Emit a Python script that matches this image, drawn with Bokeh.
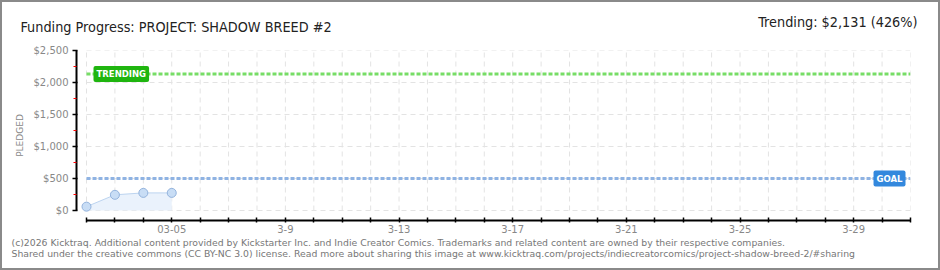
from bokeh.plotting import figure
from bokeh.models import (FixedTicker, NumeralTickFormatter, Label,
                          ColumnDataSource, Range1d)
from bokeh.embed import file_html
from bokeh.resources import INLINE

# ---- data ----
days = [2, 3, 4, 5]
pledged = [60, 245, 275, 275]
axis_days = list(range(2, 32))
label_days = [5, 9, 13, 17, 21, 25, 29]
label_texts = ["03-05", "3-9", "3-13", "3-17", "3-21", "3-25", "3-29"]
y_ticks = [0, 500, 1000, 1500, 2000, 2500]
y_minor = [250, 750, 1250, 1750, 2250]
goal = 500
trending = 2131
trending_pct = 426
title_text = "Funding Progress: PROJECT: SHADOW BREED #2"
trend_text = "Trending: $2,131 (426%)"
footer_lines = [
    "(c)2026 Kicktraq. Additional content provided by Kickstarter Inc. and Indie Creator Comics. "
    "Trademarks and related content are owned by their respective companies.",
    "Shared under the creative commons (CC BY-NC 3.0) license. Read more about sharing this image at "
    "www.kicktraq.com/projects/indiecreatorcomics/project-shadow-breed-2/#sharing",
]

B = 2  # css border width around the whole chart
PX_DAY = 28.4
PX_USD = 0.064
x_start = axis_days[0] - 10 / PX_DAY
y_start = -10 / PX_USD

p = figure(frame_width=834, frame_height=170,
           x_range=Range1d(x_start, axis_days[-1]), y_range=Range1d(y_start, y_ticks[-1]),
           output_backend="svg", toolbar_location=None,
           min_border_left=76 - B, min_border_right=30 - B, min_border_top=50 - B,
           min_border_bottom=50 - B,
           background_fill_color="white", border_fill_color="white")
p.styles = {"border": f"{B}px solid #8a8a8a"}
p.outline_line_color = None
p.xgrid.visible = False
p.ygrid.visible = False

# own grid lines, limited to the data area
grid_kw = dict(line_color="#e3e3e3", line_dash="5 4", line_width=1)
p.segment(x0=axis_days, x1=axis_days, y0=[y_ticks[0]] * len(axis_days),
          y1=[y_ticks[-1]] * len(axis_days), **grid_kw)
p.segment(x0=[axis_days[0]] * len(y_ticks), x1=[axis_days[-1]] * len(y_ticks),
          y0=y_ticks, y1=y_ticks, **grid_kw)

# y axis
ya = p.yaxis[0]
ya.ticker = FixedTicker(ticks=y_ticks, minor_ticks=y_minor)
ya.formatter = NumeralTickFormatter(format="$0,0")
ya.bounds = (y_ticks[0], y_ticks[-1])
ya.axis_line_color = "black"
ya.axis_line_width = 2
ya.major_tick_line_color = "black"
ya.major_tick_line_width = 1.5
ya.major_tick_out = 4
ya.major_tick_in = 1
ya.minor_tick_line_color = "red"
ya.minor_tick_out = 3
ya.minor_tick_in = 0
ya.major_label_standoff = 4
ya.major_label_text_color = "#888888"
ya.major_label_text_font = "DejaVu Sans"
ya.major_label_text_font_size = "10px"
ya.axis_label = "PLEDGED"
ya.axis_label_text_color = "#888888"
ya.axis_label_text_font = "DejaVu Sans"
ya.axis_label_text_font_size = "9px"
ya.axis_label_text_font_style = "normal"
ya.axis_label_standoff = 6

# x axis
xa = p.xaxis[0]
xa.ticker = FixedTicker(ticks=axis_days, minor_ticks=[])
overrides = {d: "" for d in axis_days}
overrides.update({d: t for d, t in zip(label_days, label_texts)})
xa.major_label_overrides = overrides
xa.bounds = (axis_days[0], axis_days[-1])
xa.axis_line_color = "black"
xa.axis_line_width = 2
xa.major_tick_line_color = "black"
xa.major_tick_line_width = 1.5
xa.major_tick_in = 3
xa.major_tick_out = 2
xa.major_label_standoff = 2
xa.major_label_text_color = "#888888"
xa.major_label_text_font = "DejaVu Sans"
xa.major_label_text_font_size = "10px"

# goal & trending lines
p.line(x=[axis_days[0], axis_days[-1]], y=[trending, trending], line_color="#77dd66",
       line_width=3, line_dash="4 2")
p.line(x=[axis_days[0], axis_days[-1]], y=[goal, goal], line_color="#8fb3e3",
       line_width=3, line_dash="4 2")

# series
src = ColumnDataSource(dict(x=days, y=pledged, y0=[0] * len(days)))
p.varea(x="x", y1="y0", y2="y", source=src, fill_color="#eaf2fc")
p.line(x="x", y="y", source=src, line_color="#bcd4f0", line_width=1)
p.scatter(x="x", y="y", source=src, size=9, fill_color="#c8ddf5", line_color="#93b3dd", line_width=1)

# line labels
p.add_layout(Label(x=axis_days[0], y=trending, text="TRENDING", x_offset=7, text_baseline="middle",
                   text_color="white", text_font="DejaVu Sans", text_font_size="8.5px",
                   text_font_style="bold",
                   background_fill_color="#1fb50f", padding=3, border_radius=2))
p.add_layout(Label(x=axis_days[-1], y=goal, text="GOAL", x_offset=-5, text_align="right",
                   text_baseline="middle",
                   text_color="white", text_font="DejaVu Sans", text_font_size="8.5px",
                   text_font_style="bold",
                   background_fill_color="#3388dd", padding=3, border_radius=2))

# header: Labels in the above panel (each stacks in its own slot)
FL = 76
head_font = "'DejaVu Sans Condensed', Roboto, sans-serif"
p.add_layout(Label(x=20 - FL, y=16, x_units="screen", y_units="screen", text=title_text,
                   text_font=head_font, text_font_size="14.3px", text_color="#222222"),
             "above")
p.add_layout(Label(x=917 - FL, y=5, x_units="screen", y_units="screen", text=trend_text,
                   text_align="right",
                   text_font=head_font, text_font_size="14.3px", text_color="#222222"),
             "above")
# footer: one two-line Label in the below panel
p.add_layout(Label(x=11 - FL, y=-1, x_units="screen", y_units="screen", text="\n".join(footer_lines),
                   text_font="DejaVu Sans", text_font_size="9.3px", text_color="#777777",
                   text_line_height=1.0, text_baseline="bottom"),
             "below")

open("out.html", "w").write(file_html(p, INLINE))
